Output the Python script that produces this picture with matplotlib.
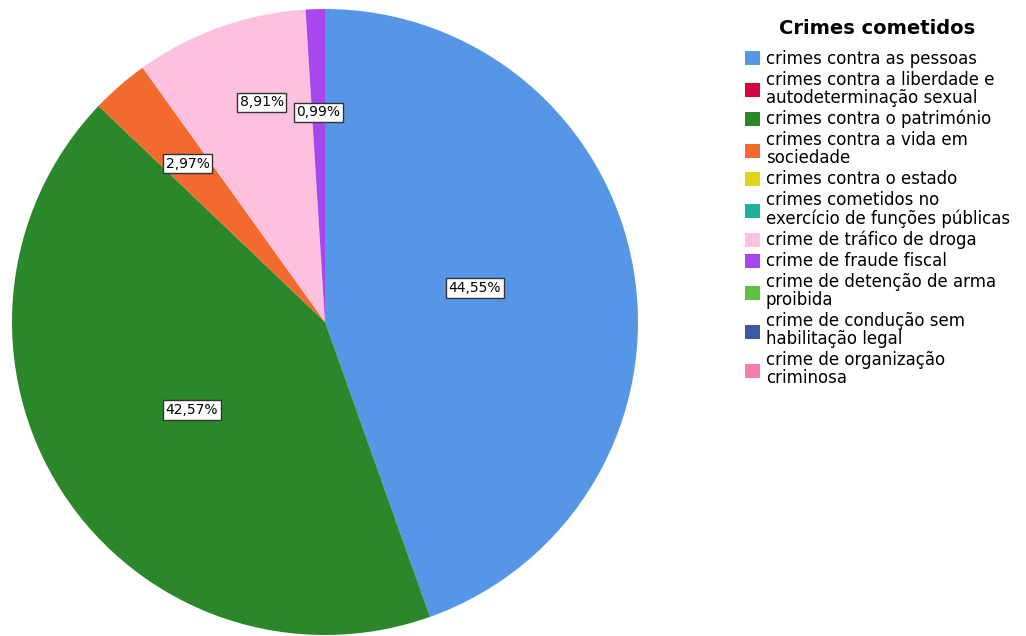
import matplotlib
matplotlib.use("Agg")
import matplotlib.pyplot as plt
import numpy as np

# Categories of offences and their share of cases (%)
categories = [
    "crimes contra as pessoas",
    "crimes contra a liberdade e\nautodeterminação sexual",
    "crimes contra o património",
    "crimes contra a vida em\nsociedade",
    "crimes contra o estado",
    "crimes cometidos no\nexercício de funções públicas",
    "crime de tráfico de droga",
    "crime de fraude fiscal",
    "crime de detenção de arma\nproibida",
    "crime de condução sem\nhabilitação legal",
    "crime de organização\ncriminosa",
]
percentages = [44.55, 0.0, 42.57, 2.97, 0.0, 0.0, 8.91, 0.99, 0.0, 0.0, 0.0]
colors = [
    "#5596E6", "#D6043C", "#2A872A", "#F26A2E", "#E2D41A", "#1CB19B",
    "#FDC1DF", "#A847EE", "#5DC13E", "#3D5AA8", "#F47EB2",
]
# placement of each percentage label: fraction of radius, angular nudge (deg)
label_radius = [0.49, 0.5, 0.51, 0.67, 0.5, 0.5, 0.73, 0.67, 0.5, 0.5, 0.5]
label_nudge = [3.0, 0, 0.5, 0, 0, 0, -3.5, 0, 0, 0, 0]

plt.rcParams["font.family"] = ["DejaVu Sans"]

fig = plt.figure(figsize=(10.26, 6.36), dpi=100)
ax = fig.add_axes([12 / 1026, 1 / 636, 626 / 1026, 626 / 636])

wedges, _ = ax.pie(
    percentages,
    colors=colors,
    startangle=90,
    counterclock=False,
    radius=1.0,
    wedgeprops=dict(linewidth=0),
)
ax.set_xlim(-1, 1)
ax.set_ylim(-1, 1)
ax.set_aspect("equal")
ax.axis("off")

# percentage labels in white boxes
for w, p, r, dn in zip(wedges, percentages, label_radius, label_nudge):
    if p <= 0:
        continue
    ang = np.deg2rad((w.theta1 + w.theta2) / 2 + dn)
    x, y = r * np.cos(ang), r * np.sin(ang)
    ax.text(
        x, y, f"{p:.2f}%".replace(".", ","),
        ha="center", va="center", fontsize=10, color="black",
        bbox=dict(boxstyle="square,pad=0.2", facecolor="white",
                  edgecolor="#333333", linewidth=1.0),
    )

handles = [plt.Rectangle((0, 0), 1, 1, facecolor=c, edgecolor="none") for c in colors]
leg = fig.legend(
    handles, categories,
    loc="upper left",
    bbox_to_anchor=(745 / 1026, 1 - 19 / 636),
    frameon=False,
    fontsize=12,
    title="Crimes cometidos",
    title_fontproperties=dict(size=14, weight="bold"),
    handlelength=0.9,
    handleheight=0.9,
    handletextpad=0.35,
    labelspacing=0.18,
    borderaxespad=0,
    borderpad=0,
)
for t in leg.get_texts():
    t.set_linespacing(1.0)
leg._legend_box.align = "center"
# extra room between the title and the entries
leg._legend_box.sep = 8.6

fig.savefig("out.png", dpi=100)
